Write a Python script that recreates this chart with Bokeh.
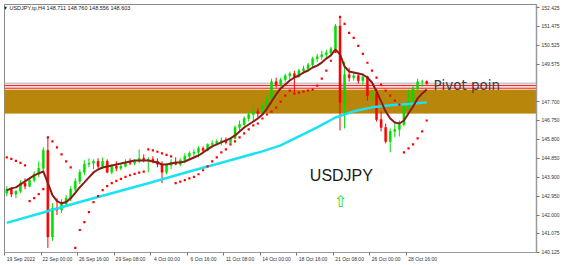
from bokeh.plotting import figure
from bokeh.models import (Range1d, FixedTicker, PrintfTickFormatter, LinearAxis,
                          BoxAnnotation, Span, Label, ColumnDataSource)
from bokeh.core.properties import value
from bokeh.embed import file_html
from bokeh.resources import INLINE

# ---------------- data (8-hour bars) ----------------
header_text = "\u25bc USDJPY.tp,H4  148.711 148.760 148.556 148.603"

opens = [143.10, 143.30, 143.05, 143.20, 143.60, 143.45, 143.75, 144.05, 144.35, 145.25,
         140.90, 142.35, 142.25, 142.55, 142.85, 143.30, 143.70, 144.15, 144.55, 144.60,
         144.70, 144.45, 144.70, 144.15, 144.45, 144.35, 144.45, 144.65, 144.60, 144.70,
         144.85, 144.75, 144.80, 144.70, 144.55, 144.15, 144.50, 144.65, 144.55, 144.75,
         144.95, 145.10, 145.15, 145.35, 145.25, 145.55, 145.60, 145.70, 145.75, 145.65,
         145.85, 146.40, 146.55, 146.85, 147.05, 147.20, 147.10, 147.50, 147.85, 148.70,
         148.55, 148.80, 149.00, 149.10, 148.95, 149.25, 149.35, 149.55, 149.85, 149.95,
         150.05, 150.15, 150.35, 151.50, 147.65, 149.05, 148.90, 149.00, 148.75, 148.95,
         148.00, 148.10, 146.80, 146.40, 145.70, 146.20, 146.30, 146.55, 147.45, 147.70,
         148.35, 148.70, 148.711]
highs = [143.45, 143.40, 143.25, 143.75, 143.85, 143.90, 144.20, 144.70, 145.40, 145.90,
         142.60, 142.85, 142.80, 143.00, 143.45, 143.85, 144.30, 144.75, 144.85, 144.80,
         144.85, 144.90, 144.80, 144.55, 144.70, 144.60, 144.80, 144.85, 144.80, 145.30,
         145.05, 144.90, 144.95, 144.85, 144.70, 144.60, 144.80, 144.90, 144.85, 145.10,
         145.20, 145.30, 145.45, 145.45, 145.60, 145.75, 145.80, 145.90, 145.90, 145.90,
         146.50, 146.75, 146.95, 147.15, 147.65, 147.35, 147.60, 148.00, 148.85, 148.90,
         148.90, 149.10, 149.20, 149.25, 149.35, 149.50, 149.65, 149.95, 150.10, 150.25,
         150.30, 150.45, 151.60, 151.95, 149.70, 149.40, 149.15, 149.15, 149.05, 149.00,
         148.30, 148.35, 147.20, 146.60, 146.35, 146.70, 146.75, 147.60, 148.30, 148.50,
         148.85, 148.80, 148.760]
lows = [142.95, 142.90, 142.85, 143.10, 143.30, 143.40, 143.65, 143.90, 144.20, 140.35,
        140.70, 142.00, 142.10, 142.40, 142.70, 143.15, 143.55, 144.00, 144.40, 144.30,
        144.35, 144.30, 144.10, 144.05, 144.20, 144.25, 144.40, 144.50, 144.50, 144.60,
        144.65, 144.15, 144.60, 144.40, 143.60, 144.05, 144.30, 144.50, 144.45, 144.60,
        144.85, 144.95, 144.90, 145.15, 145.20, 145.40, 145.50, 145.50, 145.55, 145.60,
        145.80, 146.20, 146.45, 146.70, 146.70, 146.90, 147.05, 147.40, 147.80, 148.40,
        148.45, 148.70, 148.80, 148.15, 148.90, 149.10, 149.20, 149.45, 149.70, 149.80,
        149.85, 150.05, 150.25, 146.25, 146.35, 148.70, 148.75, 148.60, 148.50, 147.75,
        147.70, 146.70, 146.20, 145.60, 145.15, 145.90, 145.95, 146.45, 147.30, 147.60,
        148.10, 148.45, 148.556]
closes = [143.30, 143.05, 143.20, 143.60, 143.45, 143.75, 144.05, 144.35, 145.25, 140.90,
          142.35, 142.25, 142.55, 142.85, 143.30, 143.70, 144.15, 144.55, 144.60, 144.70,
          144.45, 144.70, 144.15, 144.45, 144.35, 144.45, 144.65, 144.60, 144.70, 144.85,
          144.75, 144.80, 144.70, 144.55, 144.15, 144.50, 144.65, 144.55, 144.75, 144.95,
          145.10, 145.15, 145.35, 145.25, 145.55, 145.60, 145.70, 145.75, 145.65, 145.85,
          146.40, 146.55, 146.85, 147.05, 147.20, 147.10, 147.50, 147.85, 148.70, 148.55,
          148.80, 149.00, 149.10, 148.95, 149.25, 149.35, 149.55, 149.85, 149.95, 150.05,
          150.15, 150.35, 151.50, 147.65, 149.05, 148.90, 149.00, 148.75, 148.95, 148.00,
          148.10, 146.80, 146.40, 145.70, 146.20, 146.30, 146.55, 147.45, 147.70, 148.35,
          148.70, 148.711, 148.603]
# Parabolic SAR dots
sar = [144.90, 144.82, 144.72, 144.62, 144.50, 142.70, 142.85, 143.05, 143.30, 145.90,
       145.70, 145.40, 145.05, 144.70, 144.40, 140.35, 141.25, 141.65, 142.15, 142.65,
       142.95, 143.25, 143.45, 143.60, 143.72, 143.82, 143.92, 144.00, 144.07, 144.13,
       144.18, 145.30, 145.25, 145.18, 145.10, 145.02, 144.95, 143.60, 143.68, 143.76,
       143.84, 143.92, 144.05, 144.25, 144.45, 144.70, 144.90, 145.15, 145.30, 145.55,
       145.70, 145.90, 146.10, 146.30, 146.50, 146.60, 146.85, 147.05, 147.20, 147.40,
       147.70, 148.00, 148.25, 148.10, 148.15, 148.20, 148.25, 148.30, 148.50, 148.85,
       149.25, 149.75, 150.20, 151.95, 151.60, 151.15, 150.90, 150.50, 150.10, 149.65,
       149.25, 148.90, 148.55, 148.25, 148.00, 147.75, 147.55, 145.15, 145.35, 145.55,
       145.85, 146.20, 146.75]
# fast moving average (dark red)
ma_fast = [143.24, 143.34, 143.39, 143.54, 143.69, 143.84, 143.99, 144.09, 144.19, 143.60,
           143.00, 142.70, 142.59, 142.66, 142.84, 143.12, 143.40, 143.64, 143.89, 144.14,
           144.29, 144.39, 144.44, 144.49, 144.54, 144.59, 144.64, 144.69, 144.74, 144.74,
           144.74, 144.74, 144.69, 144.64, 144.54, 144.54, 144.59, 144.64, 144.64, 144.69,
           144.79, 144.89, 144.99, 145.14, 145.30, 145.45, 145.55, 145.65, 145.75, 145.85,
           146.00, 146.20, 146.40, 146.55, 146.70, 146.85, 147.05, 147.35, 147.70, 148.06,
           148.36, 148.56, 148.76, 148.91, 149.01, 149.16, 149.26, 149.41, 149.51, 149.66,
           149.86, 150.02, 150.32, 150.07, 149.46, 149.21, 149.16, 149.11, 149.06, 148.91,
           148.66, 148.21, 147.71, 147.20, 146.85, 146.65, 146.60, 146.75, 147.10, 147.45,
           147.86, 148.11, 148.31]
# slow moving average (cyan), sampled bars
ma_slow_bar = [0, 8, 16, 24, 32, 40, 48, 56, 60, 64, 68, 72, 76, 80, 84, 88, 92]
ma_slow = [141.61, 142.13, 142.66, 143.16, 143.66, 144.19, 144.69, 145.20, 145.50, 145.95,
           146.40, 146.90, 147.21, 147.41, 147.51, 147.58, 147.66]

x_tick_bar = [0, 8, 16, 24, 32, 40, 48, 56, 64, 72, 80, 88]
x_tick_labels = ["19 Sep 2022", "22 Sep 00:00", "26 Sep 16:00", "29 Sep 08:00", "4 Oct 00:00",
                 "6 Oct 16:00", "11 Oct 08:00", "14 Oct 00:00", "18 Oct 16:00", "21 Oct 08:00",
                 "26 Oct 00:00", "28 Oct 16:00"]
y_ticks = [152.425, 151.475, 150.525, 149.575, 147.700, 146.750, 145.800, 144.850,
           143.900, 142.950, 142.000, 141.075, 140.125]

zone_top, zone_bottom = 148.29, 147.10
bid_price = 148.603
pivot_price = 148.373
pivot_upper = 148.50
pivot_text = "Pivot poin"
pivot_text_bar, pivot_text_price = 94.0, 148.55
name_text, name_bar, name_price = "USDJPY", 73.8, 144.0
arrow_bar, arrow_price = 73.6, 142.69

# ---------------- figure ----------------
X_END = 116.54
p = figure(width=565, height=265, output_backend="svg", toolbar_location=None,
           x_range=Range1d(0, X_END), y_range=Range1d(140.12, 152.576),
           y_axis_location="right", min_border_left=4, min_border_right=29,
           min_border_top=4, min_border_bottom=13, title=None)
p.xgrid.visible = False
p.ygrid.visible = False
p.background_fill_color = "white"
p.border_fill_color = "white"
p.outline_line_color = "#8a8a8a"
p.outline_line_width = 1

# y axis (right)
ya = p.yaxis[0]
ya.ticker = FixedTicker(ticks=y_ticks)
ya.formatter = PrintfTickFormatter(format="%.3f")
ya.major_tick_out = 3
ya.major_tick_in = 0
ya.minor_tick_line_color = None
ya.axis_line_color = "#9a9a9a"
ya.axis_line_width = 1.5
ya.major_tick_line_color = "#777777"
ya.major_label_text_font = "Liberation Sans"
ya.major_label_text_font_size = "5px"
ya.major_label_text_color = "#333333"
ya.major_label_standoff = 2

# x axis: tick marks only (its own labels are not drawn)
xa = p.xaxis[0]
xa.ticker = FixedTicker(ticks=x_tick_bar)
xa.major_tick_out = 3
xa.major_tick_in = 0
xa.minor_tick_line_color = None
xa.axis_line_color = "#9a9a9a"
xa.major_tick_line_color = "#777777"
xa.major_label_text_font_size = "1px"
xa.major_label_text_color = None
xa.major_label_standoff = 0

# x axis: labels, left-aligned next to tick marks
lab_off = 3.6
lab_pos = [t + lab_off for t in x_tick_bar]
xa2 = LinearAxis(ticker=FixedTicker(ticks=lab_pos),
                 major_label_overrides={pos: lab for pos, lab in zip(lab_pos, x_tick_labels)})
xa2.major_tick_out = 0
xa2.major_tick_in = 0
xa2.minor_tick_line_color = None
xa2.major_tick_line_color = None
xa2.axis_line_color = None
xa2.major_label_text_font = "Liberation Sans"
xa2.major_label_text_font_size = "5px"
xa2.major_label_text_color = "#333333"
xa2.major_label_standoff = 0
p.add_layout(xa2, "below")

# zone, lines
p.add_layout(BoxAnnotation(bottom=zone_bottom, top=zone_top, fill_color="#B8860B",
                           fill_alpha=1.0, line_color="#C89A2A", line_width=1, level="underlay"))
p.add_layout(Span(location=bid_price, dimension="width", line_color="#C5CAD2",
                  line_width=2, level="underlay"))
p.add_layout(Span(location=pivot_upper, dimension="width", line_color="#ff0000",
                  line_width=1, level="underlay"))
p.add_layout(Span(location=pivot_price, dimension="width", line_color="#ff0000",
                  line_width=1, level="underlay"))

# candles
xc = [i + 0.5 for i in range(len(closes))]
colors = ["#00dd00" if c >= o else "#ff0000" for o, c in zip(opens, closes)]
src = ColumnDataSource(dict(x=xc, h=highs, l=lows,
                            top=[max(o, c) for o, c in zip(opens, closes)],
                            bottom=[min(o, c) for o, c in zip(opens, closes)],
                            color=colors))
p.segment(x0="x", y0="l", x1="x", y1="h", line_color="color", line_width=1, source=src)
p.vbar(x="x", width=0.45, top="top", bottom="bottom", fill_color="color",
       line_color="color", line_width=0.5, source=src)

# moving averages
p.line([b + 0.5 for b in ma_slow_bar], ma_slow, line_color="#19E3F0", line_width=2.5)
p.line(xc, ma_fast, line_color="#8B1A1A", line_width=2)

# parabolic SAR
p.scatter(xc, sar, marker="square", size=2.2, fill_color="#ff0000", line_color=None)

# texts
p.text(x=[name_bar], y=[name_price], text=[name_text], text_font=value("Liberation Sans"),
       text_font_size="16px", text_align="center", text_baseline="middle", text_color="#1a1a1a")
p.text(x=[arrow_bar], y=[arrow_price], text=["\u21e7"], text_font=value("DejaVu Sans"),
       text_font_size="16px", text_align="center", text_baseline="middle", text_color="#22dd22")
p.text(x=[pivot_text_bar], y=[pivot_text_price], text=[pivot_text], text_font=value("DejaVu Sans"),
       text_font_size="13.5px", text_align="left", text_baseline="alphabetic", text_color="#404040")

p.add_layout(Label(x=-0.45, y=152.42, text=header_text, text_font="Liberation Sans",
                   text_font_size="5.5px", text_baseline="middle", text_color="#222222"))

p.add_layout(Label(x=X_END + 0.2, y=bid_price, text="148.603", text_font="Liberation Sans",
                   text_font_size="5px", text_baseline="middle", text_color="white",
                   background_fill_color="black", padding=1))
p.add_layout(Label(x=X_END + 0.2, y=pivot_price, text="148.373", text_font="Liberation Sans",
                   text_font_size="5px", text_baseline="middle", text_color="white",
                   background_fill_color="#ff0000", padding=1))

open("out.html", "w").write(file_html(p, INLINE))
